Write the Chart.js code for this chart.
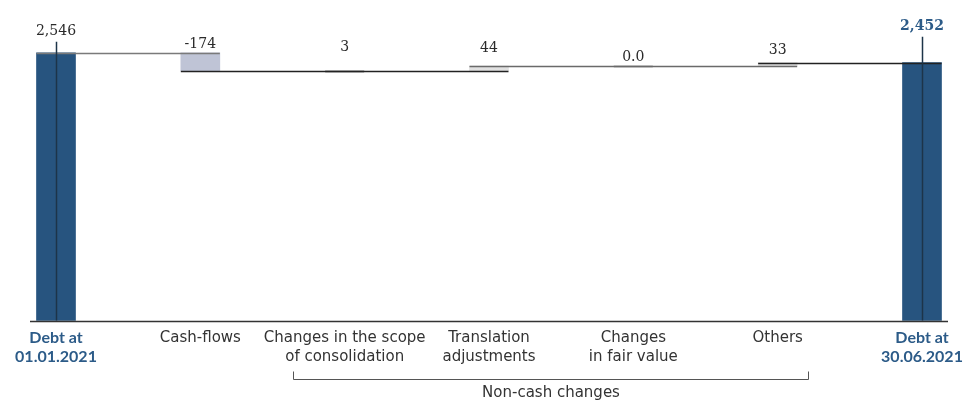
<!DOCTYPE html>
<html>
<head>
<meta charset="utf-8">
<script src="https://cdn.jsdelivr.net/npm/chart.js@4/dist/chart.umd.min.js"></script>
<style>
  html, body { margin: 0; padding: 0; background: #fff; }
  #wrap { width: 963px; height: 401px; }
</style>
</head>
<body>
<div id="wrap"><canvas id="debtChart" width="963" height="401"></canvas></div>
<script>
// Debt bridge, 01.01.2021 -> 30.06.2021
const categories = [
    ['Debt at', '01.01.2021'],
    'Cash-flows',
    ['Changes in the scope', 'of consolidation'],
    ['Translation', 'adjustments'],
    ['Changes', 'in fair value'],
    'Others',
    ['Debt at', '30.06.2021']
];
const movements = [2546, -174, 3, 44, 0.0, 33, 2452];
const isTotal = [true, false, false, false, false, false, true];
const valueLabels = ['2,546', '-174', '3', '44', '0.0', '33', '2,452'];

const BLUE = '#27547f';
const barColors = [BLUE, '#bfc4d6', '#e1e1e1', '#e1e1e1', '#e1e1e1', '#e1e1e1', BLUE];

// build floating bars [from, to] and the running level after each bar
const floating = [];
const levels = [];
let running = 0;
movements.forEach((v, i) => {
    if (isTotal[i]) {
        floating.push([0, v]);
        running = v;
    } else {
        floating.push([running, running + v]);
        running += v;
    }
    levels.push(running);
});

const SANS = '"DejaVu Sans", sans-serif';
const SANS_BOLD = 'Lato, "DejaVu Sans", sans-serif';
const SERIF = '"DejaVu Serif", serif';

const bridgePlugin = {
    id: 'bridge',
    afterDatasetsDraw(chart, args, opts) {
        const ctx = chart.ctx;
        const x = chart.scales.x;
        const y = chart.scales.y;
        const meta = chart.getDatasetMeta(0);
        const zeroY = y.getPixelForValue(0);
        ctx.save();

        // connector lines: level after bar i, from left of bar i to right of bar i+1
        for (let i = 0; i < levels.length - 1; i++) {
            const a = meta.data[i], b = meta.data[i + 1];
            const ly = Math.round(y.getPixelForValue(levels[i])) + 0.5;
            ctx.strokeStyle = opts.connectorColors[i];
            ctx.lineWidth = 1.5;
            ctx.beginPath();
            ctx.moveTo(a.x - a.width / 2, ly);
            ctx.lineTo(b.x + b.width / 2, ly);
            ctx.stroke();
        }

        // value labels
        ctx.textAlign = 'center';
        ctx.textBaseline = 'middle';
        meta.data.forEach((bar, i) => {
            const topY = y.getPixelForValue(Math.max(floating[i][0], floating[i][1]));
            const ty = topY - opts.labelLift[i];
            const last = i === meta.data.length - 1;
            ctx.font = (last ? 'bold ' : '') + '14px ' + SERIF;
            ctx.fillStyle = last ? '#2c5b88' : '#2a2a2a';
            ctx.fillText(valueLabels[i], bar.x, ty);
            if (isTotal[i]) {
                ctx.strokeStyle = '#1d3449';
                ctx.lineWidth = 1.5;
                ctx.beginPath();
                ctx.moveTo(Math.round(bar.x) + 0.5, ty + 10);
                ctx.lineTo(Math.round(bar.x) + 0.5, zeroY);
                ctx.stroke();
            }
        });

        // baseline
        ctx.strokeStyle = '#333';
        ctx.lineWidth = 1.5;
        ctx.beginPath();
        ctx.moveTo(x.left - 26, Math.round(zeroY) + 0.5);
        ctx.lineTo(x.right + 26, Math.round(zeroY) + 0.5);
        ctx.stroke();

        // "Non-cash changes" bracket under categories 2..5
        const bx0 = Math.round(x.getPixelForValue(2) - 52) + 0.5;
        const bx1 = Math.round(x.getPixelForValue(5) + 30) + 0.5;
        const by = 379.5;
        ctx.strokeStyle = '#555';
        ctx.lineWidth = 1;
        ctx.beginPath();
        ctx.moveTo(bx0, by - 8);
        ctx.lineTo(bx0, by);
        ctx.lineTo(bx1, by);
        ctx.lineTo(bx1, by - 8);
        ctx.stroke();
        ctx.font = '15px ' + SANS;
        ctx.fillStyle = '#333';
        ctx.textBaseline = 'top';
        ctx.fillText('Non-cash changes', (bx0 + bx1) / 2, 386);
        ctx.restore();
    }
};

new Chart(document.getElementById('debtChart'), {
    type: 'bar',
    data: {
        labels: categories,
        datasets: [{
            data: floating,
            backgroundColor: barColors,
            borderWidth: 0,
            barThickness: 39,
            clip: false
        }]
    },
    options: {
        responsive: false,
        animation: false,
        layout: { padding: { left: 56, right: 41, top: 5, bottom: 27 } },
        plugins: {
            legend: { display: false },
            tooltip: { enabled: false },
            bridge: {
                labelLift: [21, 8, 23, 18, 9, 12, 36],
                connectorColors: ['#7a7a7a', '#222', '#222', '#6a6a6a', '#6a6a6a', '#222']
            }
        },
        scales: {
            x: {
                offset: false,
                grid: { display: false, drawTicks: false },
                border: { display: false },
                // let the edge labels run into the page margin
                afterFit: (scale) => {
                    scale.paddingLeft = 0;
                    scale.paddingRight = 0;
                },
                ticks: {
                    autoSkip: false,
                    maxRotation: 0,
                    padding: 8,
                    color: (c) => isTotal[c.index] ? '#2c5b88' : '#333',
                    font: (c) => ({
                        family: isTotal[c.index] ? SANS_BOLD : SANS,
                        size: isTotal[c.index] ? 16 : 15,
                        weight: isTotal[c.index] ? 'bold' : 'normal',
                        lineHeight: isTotal[c.index] ? 1.17 : 1.25
                    })
                }
            },
            y: {
                display: false,
                min: 0,
                max: 3000
            }
        }
    },
    plugins: [bridgePlugin]
});
</script>
</body>
</html>
